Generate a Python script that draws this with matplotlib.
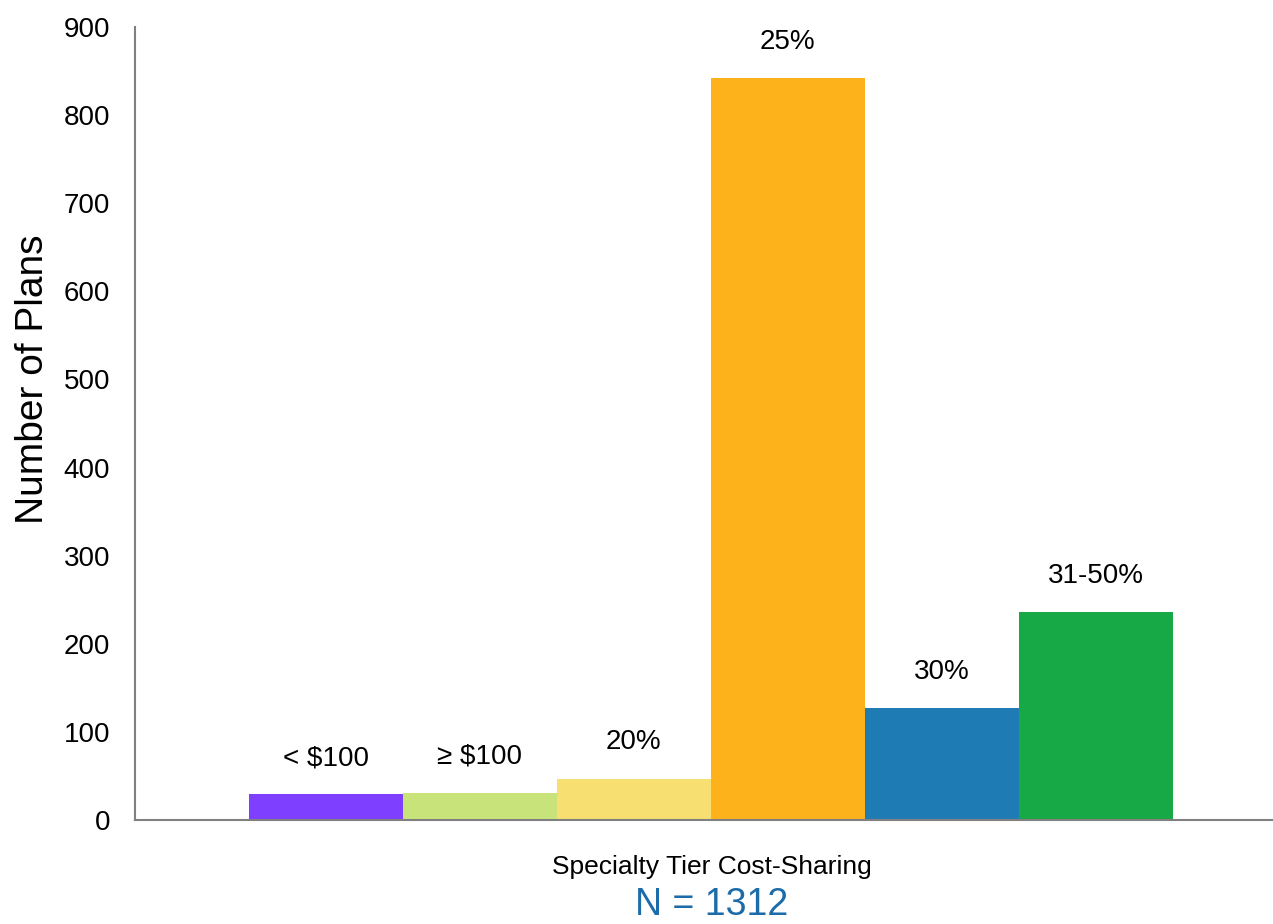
import matplotlib.pyplot as plt
import numpy as np

plt.rcParams['font.family'] = ['Liberation Sans', 'DejaVu Sans']

labels = ["< $100", "≥ $100", "20%", "25%", "30%", "31-50%"]
plans = [29, 31, 47, 842, 127, 236]
colors = ['#7F3FFF', '#C8E37A', '#F7E071', '#FDB11A', '#1F7BB4', '#17A945']

fig = plt.figure(figsize=(12.73, 9.24), dpi=100)
ax = fig.add_axes([0.106, 0.1126, 0.894, 0.8582])

x = np.arange(len(plans))
ax.bar(x, plans, width=1.0, color=colors)

for xi, v, lab in zip(x, plans, labels):
    ax.annotate(lab, (xi, v), xytext=(0, 21), textcoords='offset points',
                ha='center', va='baseline', fontsize=20)

ax.set_xlim(-1.24, 6.15)
ax.set_ylim(0, 900)
ax.set_yticks(range(0, 901, 100))
ax.set_xticks([])
ax.tick_params(axis='y', length=0, labelsize=20, pad=18)

for s in ['top', 'right']:
    ax.spines[s].set_visible(False)
for s in ['left', 'bottom']:
    ax.spines[s].set_color('#808080')
    ax.spines[s].set_linewidth(1.5)

fig.text(0.026, 0.59, "Number of Plans", rotation=90, ha='center', va='center', fontsize=28)
fig.text(0.559, 0.062, "Specialty Tier Cost-Sharing", ha='center', va='center', fontsize=19)
fig.text(0.559, 0.021, "N = 1312", ha='center', va='center', fontsize=27, color='#1B6CA8')

fig.savefig('out.png', dpi=100)
